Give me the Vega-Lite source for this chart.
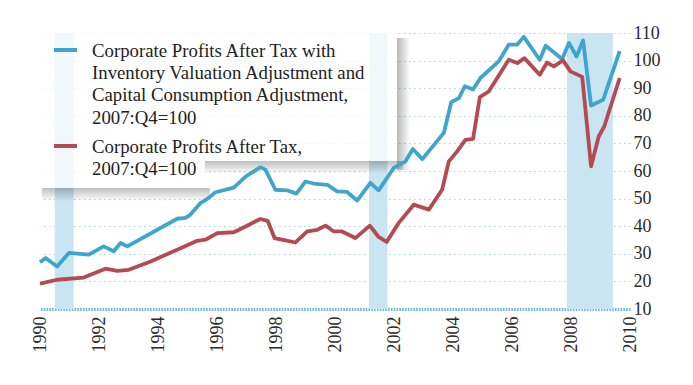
{
  "$schema": "https://vega.github.io/schema/vega-lite/v6.json",
  "width": 590,
  "height": 276,
  "autosize": {"type": "none"},
  "padding": {"left": 40, "top": 33, "right": 63, "bottom": 76},
  "background": "white",
  "config": {"view": {"stroke": null}, "font": "Liberation Serif"},
  "resolve": {"axis": {"x": "independent", "y": "independent"}},
  "datasets": {
    "recessions": [
      {"start": 1990.5, "end": 1991.14},
      {"start": 2001.15, "end": 2001.78},
      {"start": 2007.86, "end": 2009.42}
    ],
    "profits": [
      {"series": "adj", "year": 1990.00, "value": 26.9},
      {"series": "adj", "year": 1990.19, "value": 28.5},
      {"series": "adj", "year": 1990.58, "value": 25.4},
      {"series": "adj", "year": 1990.98, "value": 30.3},
      {"series": "adj", "year": 1991.65, "value": 29.7},
      {"series": "adj", "year": 1992.16, "value": 32.7},
      {"series": "adj", "year": 1992.50, "value": 30.9},
      {"series": "adj", "year": 1992.73, "value": 33.9},
      {"series": "adj", "year": 1992.96, "value": 32.7},
      {"series": "adj", "year": 1994.65, "value": 42.7},
      {"series": "adj", "year": 1994.93, "value": 43.0},
      {"series": "adj", "year": 1995.10, "value": 44.2},
      {"series": "adj", "year": 1995.44, "value": 48.4},
      {"series": "adj", "year": 1995.67, "value": 49.9},
      {"series": "adj", "year": 1995.95, "value": 52.3},
      {"series": "adj", "year": 1996.57, "value": 54.0},
      {"series": "adj", "year": 1996.97, "value": 58.0},
      {"series": "adj", "year": 1997.25, "value": 59.9},
      {"series": "adj", "year": 1997.47, "value": 61.4},
      {"series": "adj", "year": 1997.64, "value": 60.5},
      {"series": "adj", "year": 1997.98, "value": 53.2},
      {"series": "adj", "year": 1998.38, "value": 53.0},
      {"series": "adj", "year": 1998.69, "value": 51.8},
      {"series": "adj", "year": 1999.00, "value": 56.2},
      {"series": "adj", "year": 1999.34, "value": 55.3},
      {"series": "adj", "year": 1999.74, "value": 55.0},
      {"series": "adj", "year": 2000.07, "value": 52.6},
      {"series": "adj", "year": 2000.41, "value": 52.4},
      {"series": "adj", "year": 2000.75, "value": 49.3},
      {"series": "adj", "year": 2001.20, "value": 55.7},
      {"series": "adj", "year": 2001.48, "value": 53.0},
      {"series": "adj", "year": 2001.99, "value": 61.1},
      {"series": "adj", "year": 2002.39, "value": 63.5},
      {"series": "adj", "year": 2002.64, "value": 68.0},
      {"series": "adj", "year": 2002.96, "value": 64.3},
      {"series": "adj", "year": 2003.69, "value": 73.8},
      {"series": "adj", "year": 2003.94, "value": 84.9},
      {"series": "adj", "year": 2004.20, "value": 86.4},
      {"series": "adj", "year": 2004.40, "value": 90.7},
      {"series": "adj", "year": 2004.68, "value": 89.5},
      {"series": "adj", "year": 2004.93, "value": 93.7},
      {"series": "adj", "year": 2005.55, "value": 99.7},
      {"series": "adj", "year": 2005.89, "value": 105.8},
      {"series": "adj", "year": 2006.18, "value": 105.8},
      {"series": "adj", "year": 2006.40, "value": 108.6},
      {"series": "adj", "year": 2006.94, "value": 100.3},
      {"series": "adj", "year": 2007.14, "value": 105.4},
      {"series": "adj", "year": 2007.70, "value": 100.6},
      {"series": "adj", "year": 2007.93, "value": 106.4},
      {"series": "adj", "year": 2008.19, "value": 101.5},
      {"series": "adj", "year": 2008.41, "value": 107.3},
      {"series": "adj", "year": 2008.68, "value": 83.7},
      {"series": "adj", "year": 2009.09, "value": 85.8},
      {"series": "adj", "year": 2009.65, "value": 103.4},
      {"series": "raw", "year": 1990.00, "value": 19.2},
      {"series": "raw", "year": 1990.58, "value": 20.6},
      {"series": "raw", "year": 1991.48, "value": 21.4},
      {"series": "raw", "year": 1992.22, "value": 24.6},
      {"series": "raw", "year": 1992.62, "value": 23.8},
      {"series": "raw", "year": 1993.01, "value": 24.2},
      {"series": "raw", "year": 1993.75, "value": 27.2},
      {"series": "raw", "year": 1994.65, "value": 31.5},
      {"series": "raw", "year": 1995.33, "value": 34.7},
      {"series": "raw", "year": 1995.61, "value": 35.1},
      {"series": "raw", "year": 1996.01, "value": 37.5},
      {"series": "raw", "year": 1996.57, "value": 37.8},
      {"series": "raw", "year": 1996.97, "value": 39.9},
      {"series": "raw", "year": 1997.47, "value": 42.6},
      {"series": "raw", "year": 1997.72, "value": 41.9},
      {"series": "raw", "year": 1997.95, "value": 35.7},
      {"series": "raw", "year": 1998.32, "value": 34.9},
      {"series": "raw", "year": 1998.66, "value": 34.1},
      {"series": "raw", "year": 1999.06, "value": 38.1},
      {"series": "raw", "year": 1999.40, "value": 38.7},
      {"series": "raw", "year": 1999.68, "value": 40.2},
      {"series": "raw", "year": 1999.96, "value": 38.1},
      {"series": "raw", "year": 2000.24, "value": 38.1},
      {"series": "raw", "year": 2000.69, "value": 35.7},
      {"series": "raw", "year": 2001.18, "value": 40.2},
      {"series": "raw", "year": 2001.48, "value": 36.1},
      {"series": "raw", "year": 2001.75, "value": 34.3},
      {"series": "raw", "year": 2002.16, "value": 41.2},
      {"series": "raw", "year": 2002.67, "value": 47.8},
      {"series": "raw", "year": 2003.18, "value": 46.0},
      {"series": "raw", "year": 2003.63, "value": 53.2},
      {"series": "raw", "year": 2003.86, "value": 63.5},
      {"series": "raw", "year": 2004.14, "value": 67.1},
      {"series": "raw", "year": 2004.42, "value": 71.3},
      {"series": "raw", "year": 2004.68, "value": 71.6},
      {"series": "raw", "year": 2004.91, "value": 86.8},
      {"series": "raw", "year": 2005.21, "value": 88.8},
      {"series": "raw", "year": 2005.89, "value": 100.3},
      {"series": "raw", "year": 2006.18, "value": 99.1},
      {"series": "raw", "year": 2006.42, "value": 100.9},
      {"series": "raw", "year": 2006.94, "value": 94.9},
      {"series": "raw", "year": 2007.19, "value": 99.3},
      {"series": "raw", "year": 2007.42, "value": 97.9},
      {"series": "raw", "year": 2007.73, "value": 100.1},
      {"series": "raw", "year": 2007.98, "value": 96.1},
      {"series": "raw", "year": 2008.38, "value": 94.1},
      {"series": "raw", "year": 2008.68, "value": 61.7},
      {"series": "raw", "year": 2008.94, "value": 72.5},
      {"series": "raw", "year": 2009.13, "value": 76.2},
      {"series": "raw", "year": 2009.65, "value": 93.7}
    ]
  },
  "layer": [
    {
      "data": {"name": "recessions"},
      "mark": {"type": "rect", "fill": "#c9e5f1"},
      "encoding": {
        "x": {"field": "start", "type": "quantitative", "axis": null},
        "x2": {"field": "end"}
      }
    },
    {
      "data": {"values": [{}]},
      "mark": {"type": "rect", "fill": {"gradient": "linear", "x1": 0, "y1": 0, "x2": 1, "y2": 0, "stops": [{"offset": 0, "color": "rgba(0,0,0,0.28)"}, {"offset": 1, "color": "rgba(0,0,0,0)"}]}},
      "encoding": {
        "x": {"datum": 2002.10, "type": "quantitative", "axis": null},
        "x2": {"datum": 2002.55},
        "y": {"datum": 108.2, "type": "quantitative", "axis": null},
        "y2": {"datum": 60.4}
      }
    },
    {
      "data": {"values": [{}]},
      "mark": {"type": "rect", "fill": {"gradient": "linear", "x1": 0, "y1": 0, "x2": 0, "y2": 1, "stops": [{"offset": 0, "color": "rgba(0,0,0,0.25)"}, {"offset": 1, "color": "rgba(0,0,0,0)"}]}},
      "encoding": {
        "x": {"datum": 1995.59, "type": "quantitative", "axis": null},
        "x2": {"datum": 2002.3},
        "y": {"datum": 63.6, "type": "quantitative", "axis": null},
        "y2": {"datum": 59.0}
      }
    },
    {
      "data": {"values": [{}]},
      "mark": {"type": "rect", "fill": {"gradient": "linear", "x1": 0, "y1": 0, "x2": 0, "y2": 1, "stops": [{"offset": 0, "color": "rgba(0,0,0,0.25)"}, {"offset": 1, "color": "rgba(0,0,0,0)"}]}},
      "encoding": {
        "x": {"datum": 1990.07, "type": "quantitative", "axis": null},
        "x2": {"datum": 1995.76},
        "y": {"datum": 53.8, "type": "quantitative", "axis": null},
        "y2": {"datum": 49.1}
      }
    },
    {
      "data": {"values": [{}]},
      "mark": {"type": "rect", "fill": "white", "opacity": 0.72},
      "encoding": {
        "x": {"datum": 1989.93, "type": "quantitative", "axis": null},
        "x2": {"datum": 2002.10},
        "y": {"datum": 111.1, "type": "quantitative", "axis": null},
        "y2": {"datum": 63.6}
      }
    },
    {
      "data": {"values": [{}]},
      "mark": {"type": "rect", "fill": "white", "opacity": 0.72},
      "encoding": {
        "x": {"datum": 1989.93, "type": "quantitative", "axis": null},
        "x2": {"datum": 1995.59},
        "y": {"datum": 63.6, "type": "quantitative", "axis": null},
        "y2": {"datum": 53.8}
      }
    },
    {
      "data": {"name": "profits"},
      "mark": {"type": "line", "strokeWidth": 3.8, "strokeJoin": "round", "strokeCap": "butt"},
      "encoding": {
        "x": {
          "field": "year", "type": "quantitative",
          "scale": {"domain": [1990, 2010], "nice": false, "zero": false},
          "axis": {
            "title": null, "values": [1990, 1992, 1994, 1996, 1998, 2000, 2002, 2004, 2006, 2008, 2010],
            "format": "d", "labelAngle": -90, "labelFontSize": 18, "labelFont": "Liberation Serif",
            "labelColor": "#2b2b2b", "domain": false, "ticks": false, "grid": false, "labelPadding": 7,
            "labelOverlap": false, "labelFlush": false
          }
        },
        "y": {
          "field": "value", "type": "quantitative",
          "scale": {"domain": [10, 110], "nice": false, "zero": false},
          "axis": {
            "title": null, "orient": "right", "values": [10, 20, 30, 40, 50, 60, 70, 80, 90, 100, 110],
            "labelFontSize": 18, "labelFont": "Liberation Serif", "labelColor": "#2b2b2b",
            "domain": false, "ticks": false, "labelPadding": 3, "labelOverlap": false, "labelFlush": false,
            "grid": true,
            "gridColor": {"condition": {"test": "datum.value === 10", "value": "#6cb9d8"}, "value": "#a9d4e6"},
            "gridDash": {"condition": {"test": "datum.value === 10", "value": [1.6, 1.2]}, "value": [1.5, 3.5]},
            "gridWidth": {"condition": {"test": "datum.value === 10", "value": 3}, "value": 1.2}
          }
        },
        "color": {
          "field": "series", "type": "nominal",
          "scale": {"domain": ["adj", "raw"], "range": ["#3ea6ce", "#b64a51"]},
          "legend": {
            "title": null, "orient": "none", "legendX": 12, "legendY": 3.5, "padding": 0,
            "symbolType": "stroke", "symbolSize": 529, "symbolStrokeWidth": 4,
            "labelFont": "Liberation Serif", "labelFontSize": 18.8, "labelColor": "#222222",
            "labelLimit": 600, "labelOffset": 13, "labelBaseline": "top", "rowPadding": 5,
            "labelExpr": "datum.label == 'adj' ? ['Corporate Profits After Tax with', 'Inventory Valuation Adjustment and', 'Capital Consumption Adjustment,', '2007:Q4=100'] : ['Corporate Profits After Tax,', '2007:Q4=100']",
            "encode": {"labels": {"update": {"lineHeight": {"value": 22.3}, "dy": {"value": -8.2}}}}
          }
        }
      }
    }
  ]
}
